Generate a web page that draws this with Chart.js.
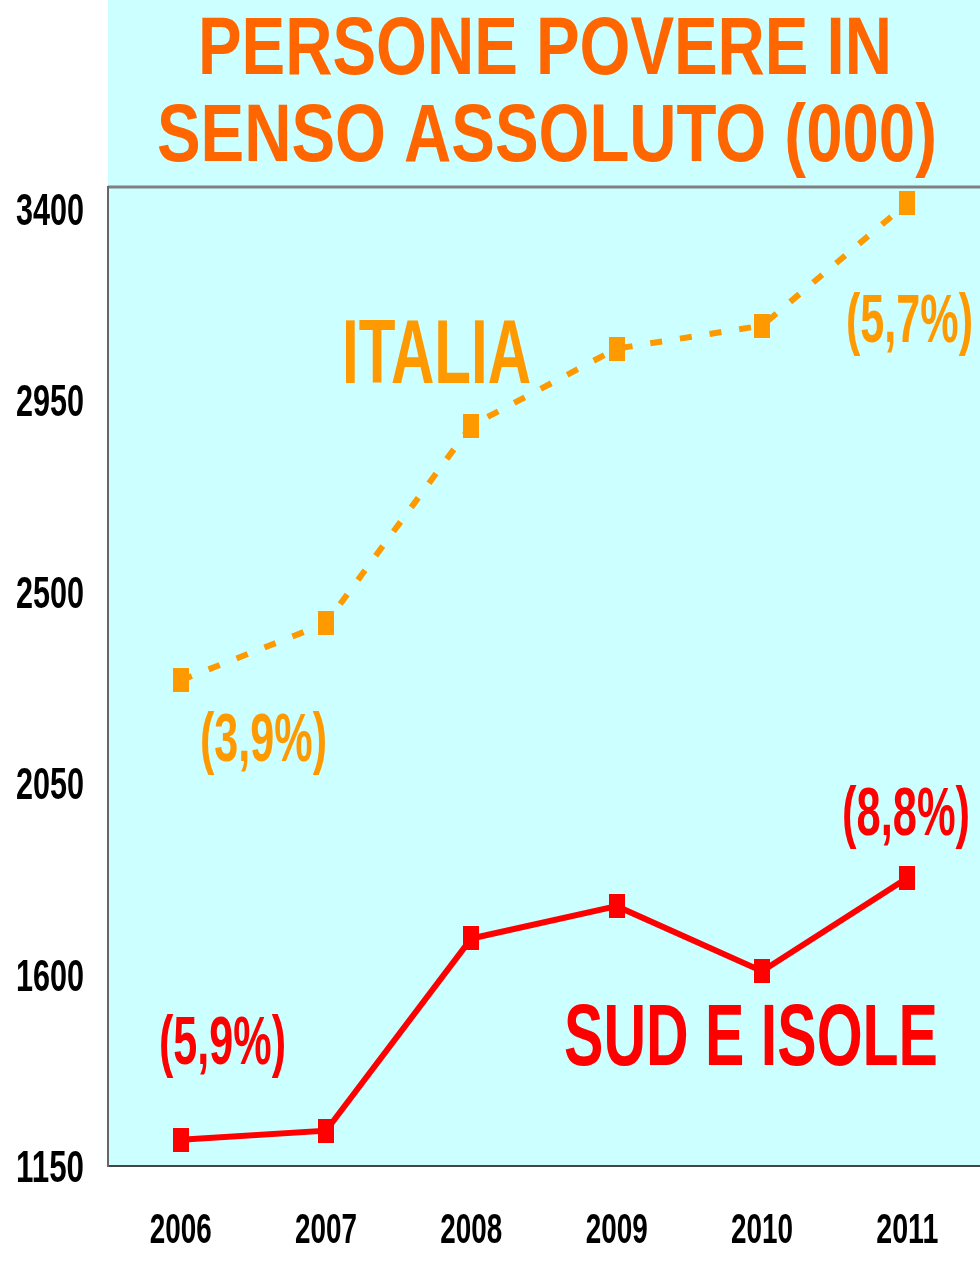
<!DOCTYPE html>
<html>
<head>
<meta charset="utf-8">
<script src="https://cdn.jsdelivr.net/npm/chart.js@4.4.1/dist/chart.umd.min.js"></script>
<style>
html,body{margin:0;padding:0;background:#ffffff;overflow:hidden;}
#wrap{width:980px;height:1275px;}
#c{display:block;}
</style>
</head>
<body>
<div id="wrap"><canvas id="c" width="980" height="1275"></canvas></div>
<script>
// ---- data ----
const years = ["2006", "2007", "2008", "2009", "2010", "2011"];
const italia = [2292, 2426, 2891, 3072, 3126, 3414];
const sudIsole = [1212, 1233, 1685, 1761, 1608, 1827];
const yTickValues = [1150, 1600, 2050, 2500, 2950, 3400];
const titleLines = ["PERSONE POVERE IN", "SENSO ASSOLUTO (000)"];
const seriesNames = ["ITALIA", "SUD E ISOLE"];
const italiaPct = ["(3,9%)", "(5,7%)"];
const sudPct = ["(5,9%)", "(8,8%)"];

const ORANGE = "#FF9900";
const RED = "#FF0000";
const TITLE = "#FF6600";
const BG = "#CCFFFF";

function rectMarker(color, w, h) {
  const cv = document.createElement("canvas");
  cv.width = w; cv.height = h;
  const g = cv.getContext("2d");
  g.fillStyle = color; g.fillRect(0, 0, w, h);
  return cv;
}
const FONT = '"Liberation Sans", Arial, Helvetica, sans-serif';
function fitText(ctx, text, x, baseline, size, width, color, align) {
  ctx.save();
  ctx.font = "bold " + size + "px " + FONT;
  ctx.textAlign = "left";
  ctx.textBaseline = "alphabetic";
  const w = ctx.measureText(text).width;
  const sx = width / w;
  let left = x;
  if (align === "center") left = x - width / 2;
  else if (align === "right") left = x - width;
  ctx.translate(left, baseline);
  ctx.scale(sx, 1);
  ctx.fillStyle = color;
  ctx.fillText(text, 0, 0);
  ctx.restore();
}

const bgPlugin = {
  id: "bg",
  beforeDraw(chart) {
    const {ctx, chartArea} = chart;
    ctx.save();
    ctx.fillStyle = BG;
    ctx.fillRect(chartArea.left, 0, chart.width - chartArea.left, chartArea.bottom);
    ctx.strokeStyle = "#808080";
    ctx.lineWidth = 3;
    ctx.beginPath();
    ctx.moveTo(chartArea.left, chartArea.top);
    ctx.lineTo(chart.width, chartArea.top);
    ctx.stroke();
    ctx.restore();
  }
};

const textPlugin = {
  id: "texts",
  afterDraw(chart) {
    const ctx = chart.ctx;
    const ys = chart.scales.y, xs = chart.scales.x;
    // title
    fitText(ctx, titleLines[0], 545, 74, 81, 694, TITLE, "center");
    fitText(ctx, titleLines[1], 547, 161, 81, 780, TITLE, "center");
    // y tick labels
    yTickValues.forEach(v => {
      const py = ys.getPixelForValue(v);
      fitText(ctx, String(v), 84, py + 16, 45, 68, "#000000", "right");
    });
    // x tick labels
    years.forEach((y, i) => {
      const px = xs.getPixelForValue(i);
      fitText(ctx, y, px, 1243, 42, 62, "#000000", "center");
    });
    // series labels
    fitText(ctx, seriesNames[0], 342, 383, 91, 189, ORANGE, "left");
    fitText(ctx, seriesNames[1], 564, 1065, 87, 374, RED, "left");
    fitText(ctx, italiaPct[0], 200, 761, 68, 127, ORANGE, "left");
    fitText(ctx, italiaPct[1], 846, 342, 68, 127, ORANGE, "left");
    fitText(ctx, sudPct[0], 159, 1064, 68, 127, RED, "left");
    fitText(ctx, sudPct[1], 842, 835, 68, 128, RED, "left");
  }
};

new Chart(document.getElementById("c"), {
  type: "line",
  data: {
    labels: years,
    datasets: [
      {
        label: "Italia",
        data: italia,
        borderColor: ORANGE,
        backgroundColor: ORANGE,
        borderWidth: 6,
        borderDash: [12, 18],
        borderCapStyle: "butt",
        tension: 0,
        fill: false,
        pointStyle: rectMarker(ORANGE, 16, 24),
        pointRadius: 10,
        clip: false
      },
      {
        label: "Sud e Isole",
        data: sudIsole,
        borderColor: RED,
        backgroundColor: RED,
        borderWidth: 6,
        tension: 0,
        fill: false,
        pointStyle: rectMarker(RED, 16, 24),
        pointRadius: 10,
        clip: false
      }
    ]
  },
  options: {
    responsive: false,
    devicePixelRatio: 1,
    animation: false,
    layout: {autoPadding: false, padding: {left: 108, right: 0, top: 187, bottom: 109}},
    plugins: {legend: {display: false}, tooltip: {enabled: false}, title: {display: false}},
    scales: {
      x: {
        type: "category",
        offset: true,
        grid: {display: false, drawTicks: false},
        ticks: {display: false},
        border: {display: true, color: "#444444", width: 2}
      },
      y: {
        min: 1150,
        max: 3452,
        grid: {display: false, drawTicks: false},
        ticks: {display: false, stepSize: 450},
        border: {display: true, color: "#666666", width: 2}
      }
    }
  },
  plugins: [bgPlugin, textPlugin]
});
</script>
</body>
</html>
